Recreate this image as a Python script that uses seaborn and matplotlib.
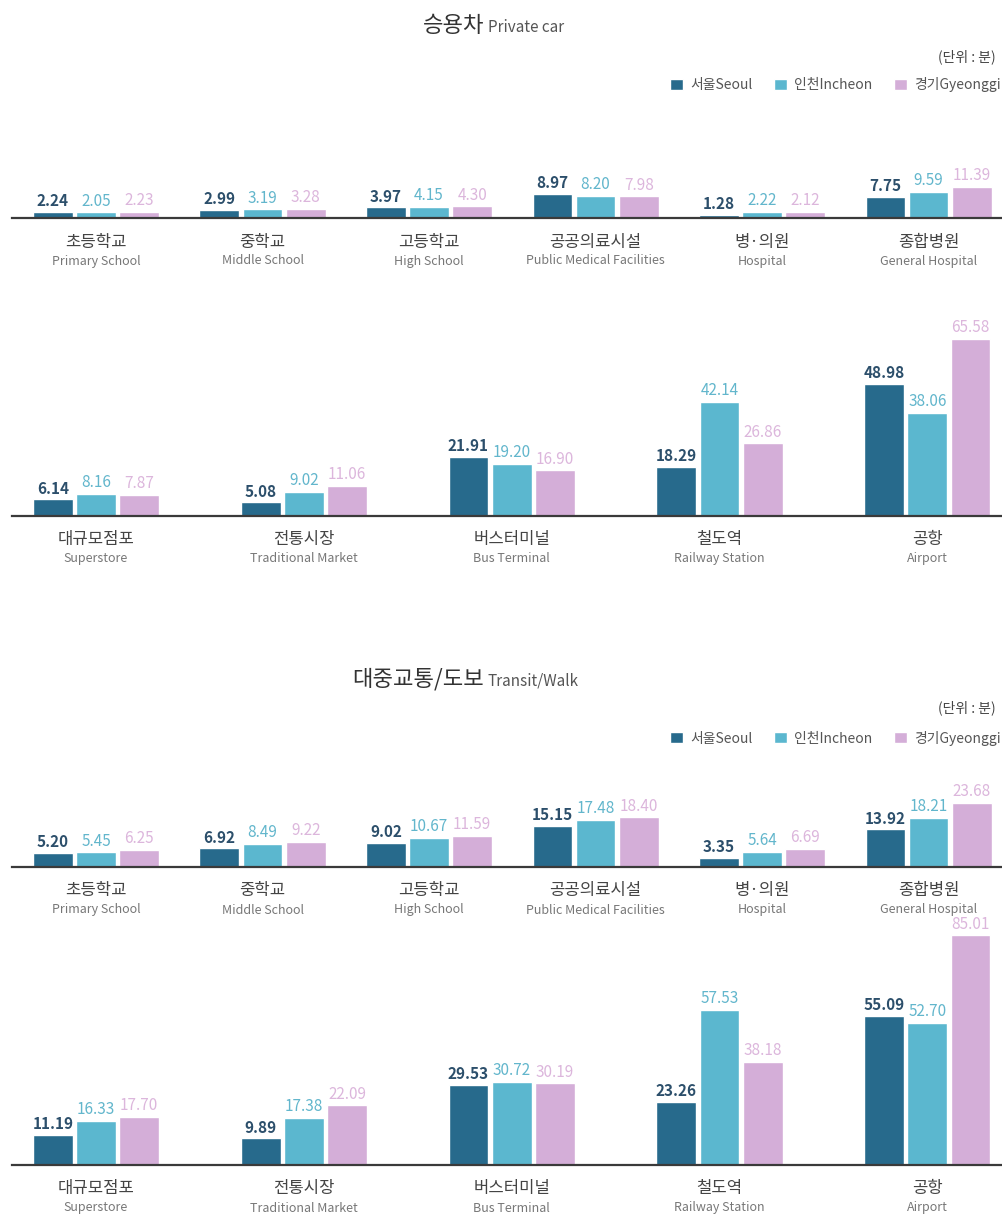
import pandas as pd
import matplotlib.pyplot as plt
import seaborn as sns
from matplotlib.patches import Patch

# categories (korean name, english name)
near_ko = ['초등학교', '중학교', '고등학교', '공공의료시설', '병·의원', '종합병원']
near_en = ['Primary School', 'Middle School', 'High School', 'Public Medical Facilities', 'Hospital', 'General Hospital']
far_ko = ['대규모점포', '전통시장', '버스터미널', '철도역', '공항']
far_en = ['Superstore', 'Traditional Market', 'Bus Terminal', 'Railway Station', 'Airport']

regions = ['서울Seoul', '인천Incheon', '경기Gyeonggi']

# private car, minutes
car_near_seoul = [2.24, 2.99, 3.97, 8.97, 1.28, 7.75]
car_near_incheon = [2.05, 3.19, 4.15, 8.20, 2.22, 9.59]
car_near_gyeonggi = [2.23, 3.28, 4.30, 7.98, 2.12, 11.39]
car_far_seoul = [6.14, 5.08, 21.91, 18.29, 48.98]
car_far_incheon = [8.16, 9.02, 19.20, 42.14, 38.06]
car_far_gyeonggi = [7.87, 11.06, 16.90, 26.86, 65.58]

# transit / walk, minutes
tr_near_seoul = [5.20, 6.92, 9.02, 15.15, 3.35, 13.92]
tr_near_incheon = [5.45, 8.49, 10.67, 17.48, 5.64, 18.21]
tr_near_gyeonggi = [6.25, 9.22, 11.59, 18.40, 6.69, 23.68]
tr_far_seoul = [11.19, 9.89, 29.53, 23.26, 55.09]
tr_far_incheon = [16.33, 17.38, 30.72, 57.53, 52.70]
tr_far_gyeonggi = [17.70, 22.09, 30.19, 38.18, 85.01]

bar_colors = ['#276a8c', '#5bb7cf', '#d4aed8']
label_colors = ['#2c4f6b', '#62b6cc', '#dcb6dc']
label_weights = ['bold', 'normal', 'normal']

W, H = 1003, 1221
PX_PER_MIN = 2.70

sns.set_style('white')
plt.rcParams['font.family'] = ['Noto Sans CJK KR', 'DejaVu Sans']

fig = plt.figure(figsize=(W / 100, H / 100), dpi=100)


def draw_panel(baseline, height, ko, en, seoul, incheon, gyeonggi, first_px, step_px):
    left = 12
    ax = fig.add_axes([left / W, 1 - baseline / H, (W - left) / W, height / H])
    df = pd.DataFrame({'facility': ko, regions[0]: seoul, regions[1]: incheon, regions[2]: gyeonggi})
    df = df.melt(id_vars='facility', var_name='region', value_name='minutes')
    sns.barplot(data=df, x='facility', y='minutes', hue='region', palette=bar_colors,
                width=128 / step_px, gap=0.08, saturation=1, legend=False, ax=ax)
    for cont, c, w in zip(ax.containers, label_colors, label_weights):
        ax.bar_label(cont, fmt='%.2f', padding=2, color=c, fontsize=11, fontweight=w)

    n = len(ko)
    ax.set_xlim(-(first_px - left) / step_px, (W - left - first_px) / step_px)
    ax.set_ylim(0, height / PX_PER_MIN)
    ax.set_xticks(range(n))
    ax.set_xticklabels([])
    ax.set_yticks([])
    ax.set(xlabel='', ylabel='')
    ax.tick_params(length=0)
    sns.despine(ax=ax, left=True)
    ax.spines['bottom'].set_color('#3a3a3a')
    ax.spines['bottom'].set_linewidth(1.6)
    ax.patch.set_alpha(0)

    for i in range(n):
        ax.annotate(ko[i], xy=(i, 0), xycoords=('data', 'axes fraction'), xytext=(0, -24),
                    textcoords='offset pixels', ha='center', va='center', fontsize=12, color='#444444',
                    annotation_clip=False)
        ax.annotate(en[i], xy=(i, 0), xycoords=('data', 'axes fraction'), xytext=(0, -43),
                    textcoords='offset pixels', ha='center', va='center', fontsize=9, color='#777777',
                    annotation_clip=False)
    return ax


def draw_header(title_ko, title_en, title_y, unit_y, legend_y):
    fig.text(484 / W, 1 - title_y / H, title_ko, ha='right', va='baseline', fontsize=16, color='#333333')
    fig.text(488 / W, 1 - title_y / H, title_en, ha='left', va='baseline', fontsize=11, color='#555555')
    fig.text(996 / W, 1 - unit_y / H, '(단위 : 분)', ha='right', va='center', fontsize=10, color='#444444')
    handles = [Patch(facecolor=c, label=r) for c, r in zip(bar_colors, regions)]
    fig.legend(handles=handles, loc='center right', bbox_to_anchor=(1.0, 1 - legend_y / H), ncol=3,
               frameon=False, fontsize=10, labelcolor='#555555', handlelength=0.9, handleheight=0.9,
               handletextpad=0.5, columnspacing=1.6, borderaxespad=0.2, borderpad=0)


draw_header('승용차', 'Private car', 32, 57, 85)
draw_panel(218, 70, near_ko, near_en, car_near_seoul, car_near_incheon, car_near_gyeonggi, 95, 164.5)
draw_panel(516, 200, far_ko, far_en, car_far_seoul, car_far_incheon, car_far_gyeonggi, 95, 205.3)

draw_header('대중교통/도보', 'Transit/Walk', 686, 708, 738)
draw_panel(867, 80, near_ko, near_en, tr_near_seoul, tr_near_incheon, tr_near_gyeonggi, 95, 164.5)
draw_panel(1165, 260, far_ko, far_en, tr_far_seoul, tr_far_incheon, tr_far_gyeonggi, 95, 205.3)

fig.savefig('out.png', dpi=100)
